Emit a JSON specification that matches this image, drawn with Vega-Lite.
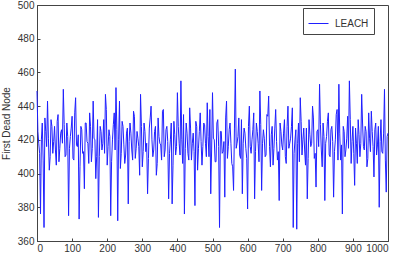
{
  "$schema": "https://vega.github.io/schema/vega-lite/v6.json",
  "autosize": "none",
  "width": 351,
  "height": 236,
  "padding": {"left": 37, "top": 5, "right": 12, "bottom": 13},
  "background": "white",
  "config": {
    "font": "Liberation Sans",
    "view": {"stroke": "#444", "strokeWidth": 1},
    "axis": {"grid": false, "domainColor": "#444", "tickColor": "#444", "labelColor": "#333", "titleColor": "#333", "labelFontSize": 10, "titleFontSize": 10, "titleFontWeight": "normal", "tickSize": -3, "labelPadding": 6}
  },
  "data": {"values": [
    {"x":0,"y":449},{"x":5,"y":418},{"x":10,"y":376},{"x":15,"y":430},{"x":20,"y":368},{"x":25,"y":425},{"x":30,"y":443},{"x":35,"y":402},{"x":40,"y":432},{"x":45,"y":412},
    {"x":50,"y":428},{"x":55,"y":405},{"x":60,"y":435},{"x":65,"y":415},{"x":70,"y":426},{"x":75,"y":450},{"x":80,"y":410},{"x":85,"y":430},{"x":90,"y":375},{"x":95,"y":422},
    {"x":100,"y":434},{"x":105,"y":408},{"x":110,"y":445},{"x":115,"y":416},{"x":120,"y":373},{"x":125,"y":428},{"x":130,"y":412},{"x":135,"y":391},{"x":140,"y":430},{"x":145,"y":418},
    {"x":150,"y":436},{"x":155,"y":407},{"x":160,"y":443},{"x":165,"y":420},{"x":170,"y":410},{"x":175,"y":374},{"x":180,"y":428},{"x":185,"y":414},{"x":190,"y":432},{"x":195,"y":447},
    {"x":200,"y":405},{"x":205,"y":426},{"x":210,"y":375},{"x":215,"y":420},{"x":220,"y":436},{"x":225,"y":451},{"x":230,"y":372},{"x":235,"y":443},{"x":240,"y":412},{"x":245,"y":428},
    {"x":250,"y":406},{"x":255,"y":424},{"x":260,"y":382},{"x":265,"y":430},{"x":270,"y":414},{"x":275,"y":437},{"x":280,"y":409},{"x":285,"y":425},{"x":290,"y":416},{"x":295,"y":447},
    {"x":300,"y":404},{"x":305,"y":430},{"x":310,"y":413},{"x":315,"y":388},{"x":320,"y":427},{"x":325,"y":440},{"x":330,"y":410},{"x":335,"y":425},{"x":340,"y":399},{"x":345,"y":433},
    {"x":350,"y":418},{"x":355,"y":408},{"x":360,"y":438},{"x":365,"y":414},{"x":370,"y":428},{"x":375,"y":385},{"x":380,"y":420},{"x":385,"y":382},{"x":390,"y":431},{"x":395,"y":411},
    {"x":400,"y":448},{"x":405,"y":418},{"x":410,"y":455},{"x":415,"y":406},{"x":420,"y":376},{"x":425,"y":430},{"x":430,"y":412},{"x":435,"y":439},{"x":440,"y":408},{"x":445,"y":424},
    {"x":450,"y":381},{"x":455,"y":428},{"x":460,"y":415},{"x":465,"y":436},{"x":470,"y":405},{"x":475,"y":430},{"x":480,"y":418},{"x":485,"y":442},{"x":490,"y":410},{"x":495,"y":388},
    {"x":500,"y":448},{"x":505,"y":420},{"x":510,"y":407},{"x":515,"y":432},{"x":520,"y":368},{"x":525,"y":425},{"x":530,"y":413},{"x":535,"y":386},{"x":540,"y":443},{"x":545,"y":416},
    {"x":550,"y":430},{"x":555,"y":406},{"x":560,"y":390},{"x":565,"y":462},{"x":570,"y":418},{"x":575,"y":433},{"x":580,"y":409},{"x":585,"y":388},{"x":590,"y":427},{"x":595,"y":415},
    {"x":600,"y":379},{"x":605,"y":440},{"x":610,"y":412},{"x":615,"y":426},{"x":620,"y":385},{"x":625,"y":430},{"x":630,"y":418},{"x":635,"y":449},{"x":640,"y":390},{"x":645,"y":426},
    {"x":650,"y":410},{"x":655,"y":435},{"x":660,"y":446},{"x":665,"y":404},{"x":670,"y":428},{"x":675,"y":415},{"x":680,"y":438},{"x":685,"y":408},{"x":690,"y":384},{"x":695,"y":425},
    {"x":700,"y":414},{"x":705,"y":432},{"x":710,"y":406},{"x":715,"y":440},{"x":720,"y":418},{"x":725,"y":428},{"x":730,"y":368},{"x":735,"y":420},{"x":740,"y":367},{"x":745,"y":430},
    {"x":750,"y":445},{"x":755,"y":411},{"x":760,"y":427},{"x":765,"y":405},{"x":770,"y":385},{"x":775,"y":432},{"x":780,"y":416},{"x":785,"y":440},{"x":790,"y":409},{"x":795,"y":392},
    {"x":800,"y":426},{"x":805,"y":453},{"x":810,"y":414},{"x":815,"y":430},{"x":820,"y":384},{"x":825,"y":422},{"x":830,"y":436},{"x":835,"y":410},{"x":840,"y":428},{"x":845,"y":386},
    {"x":850,"y":420},{"x":855,"y":438},{"x":860,"y":453},{"x":865,"y":408},{"x":870,"y":376},{"x":875,"y":425},{"x":880,"y":414},{"x":885,"y":434},{"x":890,"y":455},{"x":895,"y":406},
    {"x":900,"y":428},{"x":905,"y":393},{"x":910,"y":418},{"x":915,"y":432},{"x":920,"y":410},{"x":925,"y":447},{"x":930,"y":416},{"x":935,"y":428},{"x":940,"y":404},{"x":945,"y":436},
    {"x":950,"y":413},{"x":955,"y":425},{"x":960,"y":398},{"x":965,"y":430},{"x":970,"y":417},{"x":975,"y":380},{"x":980,"y":432},{"x":985,"y":412},{"x":990,"y":450},{"x":995,"y":389},
    {"x":1000,"y":424},
    {"x":2.5,"y":425},{"x":7.5,"y":412},{"x":12.5,"y":420},{"x":17.5,"y":408},{"x":22.5,"y":433},{"x":27.5,"y":416},{"x":32.5,"y":421},{"x":37.5,"y":410},{"x":42.5,"y":428},{"x":47.5,"y":419},
    {"x":52.5,"y":414},{"x":57.5,"y":431},{"x":62.5,"y":407},{"x":67.5,"y":424},{"x":72.5,"y":418},{"x":77.5,"y":429},{"x":82.5,"y":411},{"x":87.5,"y":422},{"x":92.5,"y":415},{"x":97.5,"y":427},
    {"x":102.5,"y":409},{"x":107.5,"y":436},{"x":112.5,"y":417},{"x":117.5,"y":423},{"x":122.5,"y":404},{"x":127.5,"y":426},{"x":132.5,"y":413},{"x":137.5,"y":430},{"x":142.5,"y":419},{"x":147.5,"y":406},
    {"x":152.5,"y":428},{"x":157.5,"y":415},{"x":162.5,"y":421},{"x":167.5,"y":397},{"x":172.5,"y":432},{"x":177.5,"y":410},{"x":182.5,"y":425},{"x":187.5,"y":418},{"x":192.5,"y":412},{"x":197.5,"y":438},
    {"x":202.5,"y":416},{"x":207.5,"y":422},{"x":212.5,"y":407},{"x":217.5,"y":429},{"x":222.5,"y":414},{"x":227.5,"y":426},{"x":232.5,"y":420},{"x":237.5,"y":403},{"x":242.5,"y":431},{"x":247.5,"y":417},
    {"x":252.5,"y":411},{"x":257.5,"y":427},{"x":262.5,"y":419},{"x":267.5,"y":424},{"x":272.5,"y":408},{"x":277.5,"y":434},{"x":282.5,"y":415},{"x":287.5,"y":421},{"x":292.5,"y":399},{"x":297.5,"y":428},
    {"x":302.5,"y":413},{"x":307.5,"y":425},{"x":312.5,"y":418},{"x":317.5,"y":409},{"x":322.5,"y":433},{"x":327.5,"y":420},{"x":332.5,"y":414},{"x":337.5,"y":428},{"x":342.5,"y":406},{"x":347.5,"y":422},
    {"x":352.5,"y":417},{"x":357.5,"y":437},{"x":362.5,"y":410},{"x":367.5,"y":426},{"x":372.5,"y":419},{"x":377.5,"y":412},{"x":382.5,"y":430},{"x":387.5,"y":405},{"x":392.5,"y":423},{"x":397.5,"y":416},
    {"x":402.5,"y":428},{"x":407.5,"y":411},{"x":412.5,"y":420},{"x":417.5,"y":435},{"x":422.5,"y":415},{"x":427.5,"y":424},{"x":432.5,"y":408},{"x":437.5,"y":427},{"x":442.5,"y":418},{"x":447.5,"y":413},
    {"x":452.5,"y":431},{"x":457.5,"y":402},{"x":462.5,"y":425},{"x":467.5,"y":419},{"x":472.5,"y":416},{"x":477.5,"y":429},{"x":482.5,"y":410},{"x":487.5,"y":422},{"x":492.5,"y":438},{"x":497.5,"y":414},
    {"x":502.5,"y":421},{"x":507.5,"y":407},{"x":512.5,"y":430},{"x":517.5,"y":416},{"x":522.5,"y":425},{"x":527.5,"y":412},{"x":532.5,"y":419},{"x":537.5,"y":433},{"x":542.5,"y":409},{"x":547.5,"y":426},
    {"x":552.5,"y":418},{"x":557.5,"y":404},{"x":562.5,"y":427},{"x":567.5,"y":415},{"x":572.5,"y":422},{"x":577.5,"y":411},{"x":582.5,"y":432},{"x":587.5,"y":418},{"x":592.5,"y":424},{"x":597.5,"y":409},
    {"x":602.5,"y":428},{"x":607.5,"y":416},{"x":612.5,"y":420},{"x":617.5,"y":436},{"x":622.5,"y":413},{"x":627.5,"y":425},{"x":632.5,"y":407},{"x":637.5,"y":429},{"x":642.5,"y":418},{"x":647.5,"y":421},
    {"x":652.5,"y":411},{"x":657.5,"y":434},{"x":662.5,"y":416},{"x":667.5,"y":423},{"x":672.5,"y":405},{"x":677.5,"y":427},{"x":682.5,"y":419},{"x":687.5,"y":413},{"x":692.5,"y":430},{"x":697.5,"y":417},
    {"x":702.5,"y":424},{"x":707.5,"y":410},{"x":712.5,"y":428},{"x":717.5,"y":415},{"x":722.5,"y":421},{"x":727.5,"y":439},{"x":732.5,"y":412},{"x":737.5,"y":426},{"x":742.5,"y":418},{"x":747.5,"y":407},
    {"x":752.5,"y":431},{"x":757.5,"y":420},{"x":762.5,"y":414},{"x":767.5,"y":427},{"x":772.5,"y":409},{"x":777.5,"y":423},{"x":782.5,"y":418},{"x":787.5,"y":433},{"x":792.5,"y":412},{"x":797.5,"y":425},
    {"x":802.5,"y":416},{"x":807.5,"y":429},{"x":812.5,"y":404},{"x":817.5,"y":422},{"x":822.5,"y":418},{"x":827.5,"y":431},{"x":832.5,"y":411},{"x":837.5,"y":426},{"x":842.5,"y":419},{"x":847.5,"y":413},
    {"x":852.5,"y":435},{"x":857.5,"y":408},{"x":862.5,"y":424},{"x":867.5,"y":417},{"x":872.5,"y":428},{"x":877.5,"y":410},{"x":882.5,"y":421},{"x":887.5,"y":415},{"x":892.5,"y":432},{"x":897.5,"y":419},
    {"x":902.5,"y":412},{"x":907.5,"y":427},{"x":912.5,"y":406},{"x":917.5,"y":423},{"x":922.5,"y":418},{"x":927.5,"y":430},{"x":932.5,"y":414},{"x":937.5,"y":425},{"x":942.5,"y":409},{"x":947.5,"y":421},
    {"x":952.5,"y":437},{"x":957.5,"y":416},{"x":962.5,"y":426},{"x":967.5,"y":411},{"x":972.5,"y":428},{"x":977.5,"y":419},{"x":982.5,"y":413},{"x":987.5,"y":424},{"x":992.5,"y":408},{"x":997.5,"y":422}
  ]},
  "transform": [{"calculate": "'LEACH'", "as": "series"}],
  "mark": {"type": "line", "strokeWidth": 1, "interpolate": "linear"},
  "encoding": {
    "x": {"field": "x", "type": "quantitative", "scale": {"domain": [0, 1000], "nice": false}, "axis": {"title": null, "values": [0,100,200,300,400,500,600,700,800,900,1000], "format": "d", "labelPadding": 5}},
    "y": {"field": "y", "type": "quantitative", "scale": {"domain": [360, 500], "nice": false, "zero": false}, "axis": {"title": "First Dead Node", "values": [360,380,400,420,440,460,480,500], "format": "d", "titlePadding": 6, "labelPadding": 6}},
    "color": {"field": "series", "type": "nominal", "scale": {"range": ["#1f1fff"]}, "legend": {"title": null, "orient": "none", "legendX": 266, "legendY": 3, "strokeColor": "#444", "fillColor": "white", "padding": 5, "symbolType": "stroke", "symbolSize": 400, "symbolStrokeWidth": 1, "labelFontSize": 10, "labelColor": "#333", "labelOffset": 6}}
  }
}
